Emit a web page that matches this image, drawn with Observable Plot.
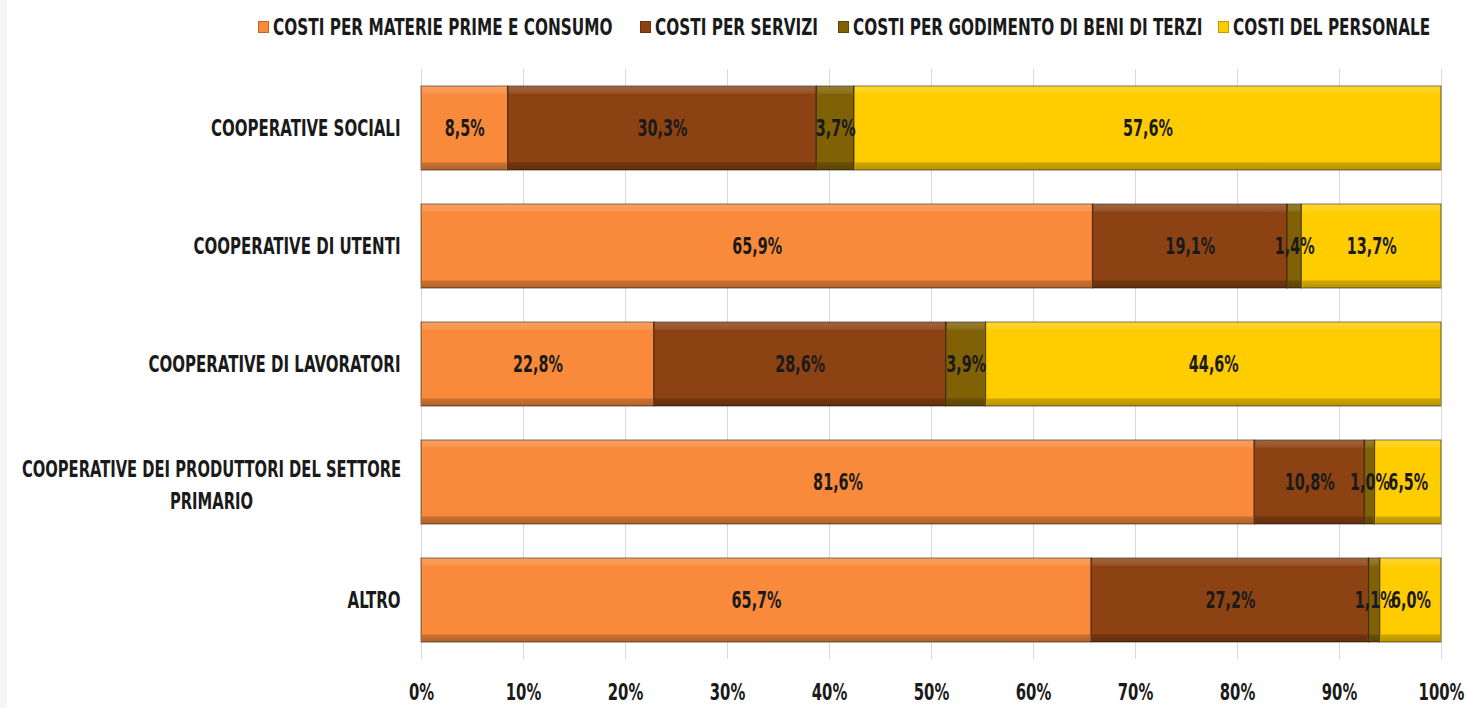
<!DOCTYPE html>
<html><head><meta charset="utf-8">
<script src="https://cdn.jsdelivr.net/npm/d3@7"></script>
<script src="https://cdn.jsdelivr.net/npm/@observablehq/plot@0.6"></script>
<style>
html,body{margin:0;padding:0;background:#fff;}
body{position:relative;width:1467px;height:708px;overflow:hidden;font-family:"DejaVu Sans Condensed",sans-serif;font-weight:bold;}
#edge{position:absolute;left:0;top:0;width:7px;height:708px;background:#f6f6f6;z-index:2;}
#legend{position:relative;height:55px;}
.li{position:absolute;top:17px;display:flex;align-items:center;font-size:17px;color:#1a1a1a;white-space:nowrap;}
.li .t{display:inline-block;transform:scaleY(1.3);}
.sw{width:11px;height:12px;margin-right:4px;box-shadow:inset 0 0 0 1px rgba(0,0,0,0.25);}
svg{display:block;}
</style></head>
<body>
<div id="edge"></div>
<div id="legend"></div>
<div id="chart"></div>
<script>
const categories = ["COOPERATIVE SOCIALI","COOPERATIVE DI UTENTI","COOPERATIVE DI LAVORATORI","COOPERATIVE DEI PRODUTTORI DEL SETTORE\nPRIMARIO","ALTRO"];
const series = ["COSTI PER MATERIE PRIME E CONSUMO","COSTI PER SERVIZI","COSTI PER GODIMENTO DI BENI DI TERZI","COSTI DEL PERSONALE"];
const colors = ["#F98A3B","#8C4213","#806105","#FFCC00"];
const materie = [8.5, 65.9, 22.8, 81.6, 65.7];
const servizi = [30.3, 19.1, 28.6, 10.8, 27.2];
const godimento = [3.7, 1.4, 3.9, 1.0, 1.1];
const personale = [57.6, 13.7, 44.6, 6.5, 6.0];
const xTicks = [0,0.1,0.2,0.3,0.4,0.5,0.6,0.7,0.8,0.9,1];
const legendX = [258, 640, 838, 1218];

const valuesBySeries = [materie, servizi, godimento, personale];
const rows = [];
series.forEach((s, si) => categories.forEach((c, ci) => rows.push({cat: c, series: s, value: valuesBySeries[si][ci]})));
const fmt = v => v.toFixed(1).replace(".", ",") + "%";

const lg = document.getElementById("legend");
series.forEach((s, i) => {
  const d = document.createElement("div");
  d.className = "li"; d.style.left = legendX[i] + "px";
  d.innerHTML = `<span class="sw" style="background:${colors[i]}"></span><span class="t">${s}</span>`;
  lg.appendChild(d);
});

const stackOpts = {x: "value", y: "cat", z: "series", offset: "normalize"};
const singleCats = categories.filter(c => !c.includes("\n"));
const multiCats = categories.filter(c => c.includes("\n"));

const plot = Plot.plot({
  width: 1467, height: 653,
  marginLeft: 421, marginRight: 26, marginTop: 14, marginBottom: 49,
  style: {fontFamily: '"DejaVu Sans Condensed",sans-serif', fontWeight: "bold", fontSize: "17px", color: "#1a1a1a", background: "#fff"},
  x: {domain: [0, 1], ticks: xTicks, tickFormat: d3.format(".0%"), label: null},
  y: {domain: categories, paddingInner: 0.29, paddingOuter: 0.145, axis: null, label: null},
  color: {domain: series, range: colors},
  marks: [
    Plot.gridX(xTicks, {stroke: "#d9d9d9", strokeOpacity: 1, strokeWidth: 1}),
    Plot.axisX(xTicks, {tickSize: 0, tickPadding: 24, tickFormat: d3.format(".0%"), fontSize: 16.5, label: null}),
    Plot.barX(rows, Plot.stackX({...stackOpts, fill: "series", stroke: "rgba(0,0,0,0.45)", strokeWidth: 1.2})),
    Plot.barX(rows, Plot.stackX({...stackOpts, fill: "url(#bevel)", insetLeft: 1, insetRight: 1})),
    Plot.text(rows, Plot.stackX({...stackOpts, text: d => fmt(d.value), fill: "#1a1a1a", fontSize: 16})),
    Plot.text(singleCats, {y: d => d, text: d => d, frameAnchor: "left", dx: -21, textAnchor: "end", fill: "#1a1a1a", fontSize: 16.7}),
    Plot.text(multiCats, {y: d => d, text: d => d, frameAnchor: "left", dx: -210, textAnchor: "middle", lineAnchor: "middle", lineHeight: 1.4, fill: "#1a1a1a", fontSize: 16.4})
  ]
});
const ns = "http://www.w3.org/2000/svg";
const defs = document.createElementNS(ns, "defs");
defs.innerHTML = `<linearGradient id="bevel" x1="0" y1="0" x2="0" y2="1">
<stop offset="0" stop-color="#fff" stop-opacity="0.18"/>
<stop offset="0.08" stop-color="#fff" stop-opacity="0.1"/>
<stop offset="0.10" stop-color="#fff" stop-opacity="0"/>
<stop offset="0.90" stop-color="#000" stop-opacity="0"/>
<stop offset="0.92" stop-color="#000" stop-opacity="0.2"/>
<stop offset="1" stop-color="#000" stop-opacity="0.28"/>
</linearGradient>`;
plot.insertBefore(defs, plot.firstChild);
// stretch text vertically to mimic the tall condensed face of the original
plot.querySelectorAll("text").forEach(t => {
  const tr = t.getAttribute("transform");
  if (tr) t.setAttribute("transform", tr + " scale(1,1.4)");
  else {
    const x = +t.getAttribute("x") || 0, y = +t.getAttribute("y") || 0;
    t.removeAttribute("x"); t.removeAttribute("y");
    t.setAttribute("transform", `translate(${x},${y}) scale(1,1.4)`);
  }
});
document.getElementById("chart").appendChild(plot);
</script>
</body></html>
